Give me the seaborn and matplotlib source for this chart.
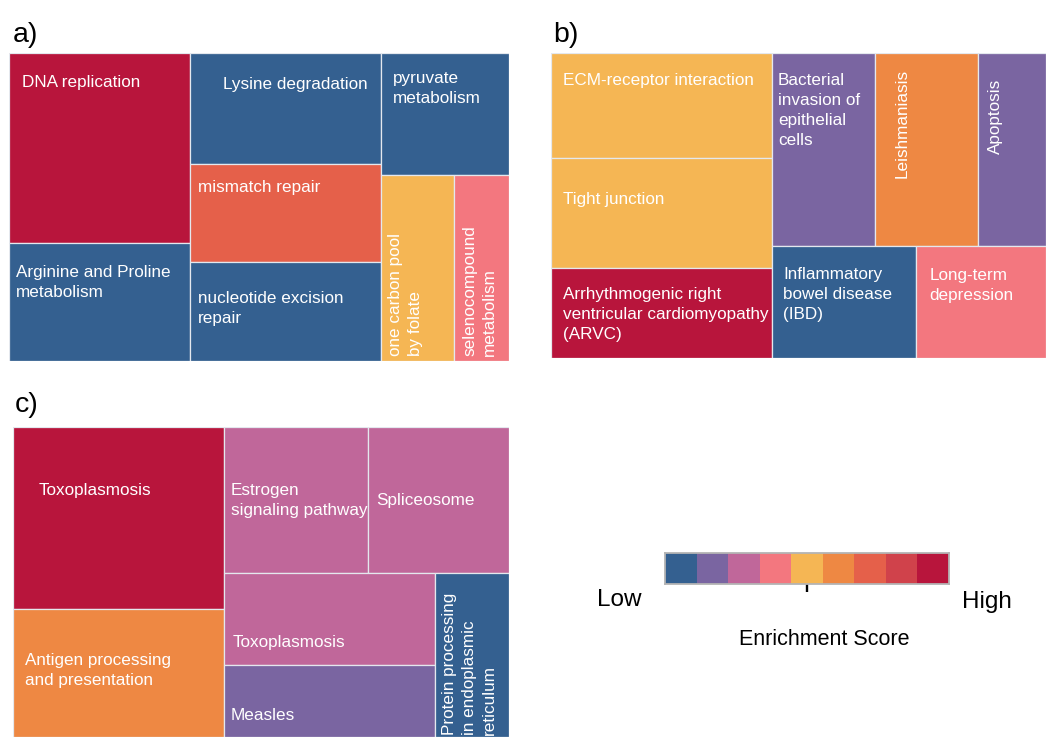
import numpy as np
import matplotlib
matplotlib.use("Agg")
import matplotlib.pyplot as plt
from matplotlib.colors import ListedColormap
from matplotlib.patches import Rectangle
import seaborn as sns

# ---------------------------------------------------------------------------
# Data
# ---------------------------------------------------------------------------
# Enrichment-score classes, low -> high
score_levels = [0, 1, 2, 3, 4, 5, 6, 7, 8]
score_colors = ["#346090", "#7a65a1", "#c0679a", "#f3777f", "#f5b654",
                "#ee8843", "#e5604a", "#d0424b", "#b8153c"]

# a) pathways
a_terms = ["DNA replication", "Arginine and Proline\nmetabolism",
           "Lysine degradation", "mismatch repair",
           "nucleotide excision\nrepair", "pyruvate\nmetabolism",
           "one carbon pool\nby folate", "selenocompound\nmetabolism"]
a_sizes = [34.4, 21.4, 21.2, 18.7, 18.9, 15.6, 13.6, 10.2]
a_scores = [8, 0, 0, 6, 0, 0, 4, 3]

# b) pathways
b_terms = ["ECM-receptor interaction", "Tight junction",
           "Arrhythmogenic right\nventricular cardiomyopathy\n(ARVC)",
           "Bacterial\ninvasion of\nepithelial\ncells", "Leishmaniasis",
           "Apoptosis", "Inflammatory\nbowel disease\n(IBD)",
           "Long-term\ndepression"]
b_sizes = [23.2, 24.3, 19.9, 19.9, 19.9, 13.1, 16.1, 14.6]
b_scores = [4, 4, 8, 1, 5, 1, 0, 3]

# c) pathways
c_terms = ["Toxoplasmosis", "Antigen processing\nand presentation",
           "Estrogen\nsignaling pathway", "Spliceosome", "Toxoplasmosis",
           "Measles", "Protein processing\nin endoplasmic\nreticulum"]
c_sizes = [38.4, 27.0, 21.0, 20.6, 19.4, 15.2, 12.1]
c_scores = [8, 5, 2, 2, 2, 1, 0]

# ---------------------------------------------------------------------------
# Treemap nesting (slice-and-dice, first level split left/right)
# ---------------------------------------------------------------------------
a_tree = [[0, 1], [2, 3, 4], [5, [6, 7]]]
b_tree = [[0, 1, 2], [[3, 4, 5], [6, 7]]]
c_tree = [[0, 1], [[2, 3], [[4, 5], 6]]]

# Label placement per tile: (dx px, dy px, rotation, corner)
a_label_style = [(13, 22, 0, "top"), (7, 22, 0, "top"), (33, 24, 0, "top"),
                 (8, 16, 0, "top"), (8, 29, 0, "top"), (12, 18, 0, "top"),
                 (7, 5, 90, "bottom"), (8, 5, 90, "bottom")]
b_label_style = [(12, 20, 0, "top"), (12, 34, 0, "top"), (12, 19, 0, "top"),
                 (6, 20, 0, "top"), (20, 16, 90, "top"), (10, 26, 90, "top"),
                 (11, 21, 0, "top"), (14, 22, 0, "top")]
c_label_style = [(26, 56, 0, "top"), (12, 44, 0, "top"), (7, 56, 0, "top"),
                 (8, 66, 0, "top"), (9, 62, 0, "top"), (7, 43, 0, "top"),
                 (7, 2, 90, "bottom")]

W, H = 1046, 737

sns.set_theme(style="white")
plt.rcParams["font.family"] = ["Liberation Sans", "DejaVu Sans"]

fig = plt.figure(figsize=(W / 100, H / 100), dpi=100)
fig.patch.set_facecolor("white")


def px_box(x0, y0, x1, y1):
    return [x0 / W, 1 - y1 / H, (x1 - x0) / W, (y1 - y0) / H]


def subtotal(node, sizes):
    if isinstance(node, int):
        return sizes[node]
    return sum(subtotal(n, sizes) for n in node)


def slice_dice(node, sizes, x, y, w, h, horizontal, out):
    if isinstance(node, int):
        out[node] = (x, y, w, h)
        return
    totals = [subtotal(n, sizes) for n in node]
    s = sum(totals)
    pos = 0.0
    for n, t in zip(node, totals):
        f = t / s
        if horizontal:
            slice_dice(n, sizes, x + pos * w, y, f * w, h, False, out)
        else:
            slice_dice(n, sizes, x, y + pos * h, w, f * h, True, out)
        pos += f


def treemap(ax, terms, sizes, scores, tree, label_style):
    rects = {}
    slice_dice(tree, sizes, 0.0, 0.0, 1.0, 1.0, True, rects)
    ax.set_xlim(0, 1)
    ax.set_ylim(1, 0)
    ax.set_axis_off()
    for i, term in enumerate(terms):
        x, y, w, h = rects[i]
        ax.add_patch(Rectangle((x, y), w, h,
                               facecolor=score_colors[scores[i]],
                               edgecolor="#e4e8ee", linewidth=0.9))
        dx, dy, rot, corner = label_style[i]
        if corner == "top":
            ax.annotate(term, xy=(x, y), xytext=(dx, -dy),
                        textcoords="offset pixels", ha="left", va="top",
                        rotation=rot, color="white", fontsize=12.3,
                        linespacing=1.42, annotation_clip=False)
        else:
            ax.annotate(term, xy=(x, y + h), xytext=(dx, dy),
                        textcoords="offset pixels", ha="left", va="bottom",
                        rotation=rot, color="white", fontsize=12.3,
                        linespacing=1.42, annotation_clip=False)


ax_a = fig.add_axes(px_box(9, 53, 509, 361))
treemap(ax_a, a_terms, a_sizes, a_scores, a_tree, a_label_style)

ax_b = fig.add_axes(px_box(551, 53, 1046, 358))
treemap(ax_b, b_terms, b_sizes, b_scores, b_tree, b_label_style)

ax_c = fig.add_axes(px_box(13, 427, 509, 737))
treemap(ax_c, c_terms, c_sizes, c_scores, c_tree, c_label_style)

# Panel letters
for letter, (px, py) in zip(["a)", "b)", "c)"], [(13, 42), (553, 42), (15, 412)]):
    fig.text(px / W, 1 - py / H, letter, fontsize=20.5, color="black",
             ha="left", va="baseline")

# Enrichment-score legend bar
cax = fig.add_axes(px_box(665, 553, 949, 584))
sns.heatmap(np.array([score_levels]), cmap=ListedColormap(score_colors),
            vmin=-0.5, vmax=8.5, cbar=False, ax=cax,
            xticklabels=False, yticklabels=False, linewidths=0)
for sp in cax.spines.values():
    sp.set_visible(True)
    sp.set_color("#b4b4b4")
    sp.set_linewidth(1.3)
cax.set_xticks([len(score_levels) / 2])
cax.tick_params(axis="x", bottom=True, length=11, width=1.7, color="black",
                direction="inout", labelbottom=False)
cax.tick_params(axis="y", left=False)

fig.text(597 / W, 1 - 606 / H, "Low", fontsize=17.5, ha="left", va="baseline",
         color="black")
fig.text(962 / W, 1 - 608 / H, "High", fontsize=17.5, ha="left",
         va="baseline", color="black")
fig.text(824 / W, 1 - 645 / H, "Enrichment Score", fontsize=15.5,
         ha="center", va="baseline", color="black")

fig.savefig("out.png", dpi=100, facecolor="white")
